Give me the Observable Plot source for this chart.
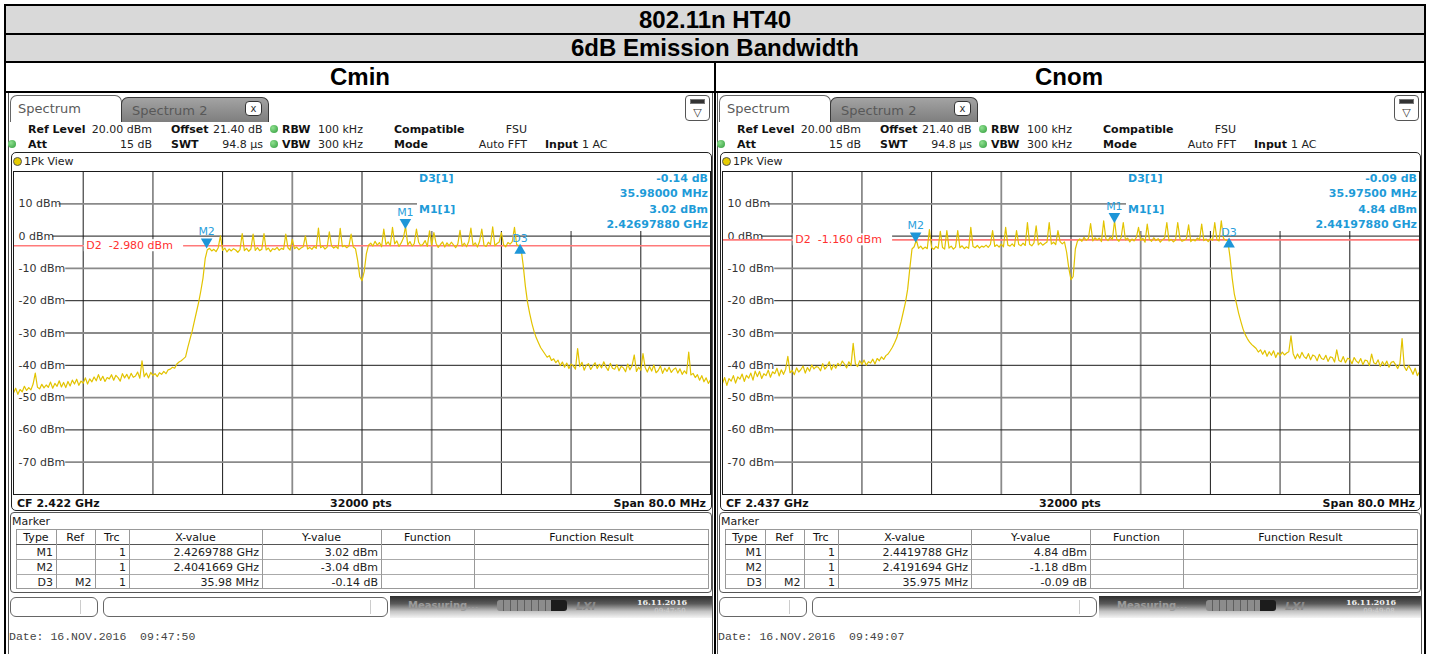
<!DOCTYPE html>
<html><head><meta charset="utf-8">
<script src="https://cdn.jsdelivr.net/npm/d3@7"></script>
<script src="https://cdn.jsdelivr.net/npm/@observablehq/plot@0.6"></script>
<style>
html,body{margin:0;padding:0;background:#fff;}
body{width:1431px;height:654px;overflow:hidden;position:relative;font-family:"DejaVu Sans",sans-serif;color:#222;}
.a{position:absolute;box-sizing:border-box;}
.t{position:absolute;white-space:pre;line-height:1;}
</style></head><body>
<script>
// ---------- data ----------
const spanMHz = 80;
const stepMHz = 0.25;
const cminStartMHz = 2382;
const cnomStartMHz = 2397;
const gridLevels = [10, 0, -10, -20, -30, -40, -50, -60, -70];

const cminLevels = [
-48.6,-47.1,-49.0,-47.5, -48.2,-46.5,-47.8,-46.9, -47.6,-45.8,-42.4,-46.8, -47.3,-45.9,-47.0,-46.1,
-46.8,-45.2,-47.1,-45.6, -46.5,-44.8,-46.7,-45.3, -46.9,-45.0,-46.4,-44.6, -45.8,-44.3,-46.2,-44.9,
-45.5,-43.9,-45.8,-44.2, -45.1,-43.6,-44.8,-42.9, -44.7,-43.4,-45.0,-43.8, -44.2,-42.9,-44.6,-43.1,
-43.8,-44.9,-42.6,-43.9, -42.8,-44.2,-42.5,-43.7, -43.3,-42.1,-44.0,-38.6, -43.5,-42.4,-43.9,-42.2,
-43.1,-42.6,-43.5,-42.3, -42.8,-41.9,-42.6,-41.4, -41.2,-40.6,-40.9,-39.6, -39.0,-38.6,-38.0,-37.4,
-34.5,-32.0,-29.5,-26.5, -23.5,-20.5,-17.0,-13.0, -7.0,-4.2,-3.8,-4.6, -4.1,-4.8,-3.6,0.1,
-4.4,-3.7,-4.9,-4.0, -4.6,-3.9,-4.3,-5.0, -4.2,0.8,-4.5,-3.8, -4.7,-4.0,0.6,-4.4,
-3.6,-4.5,-4.1,0.8, -4.3,-3.7,-4.8,-3.9, -4.2,-3.5,-4.4,-3.8, -4.1,0.6,-3.6,-4.3,
-1.0,-3.9,-3.4,-4.2, -3.7,-3.3,0.1,-4.0, -3.5,-4.1,-3.2,-3.8, 2.5,-3.6,-3.1,-4.0,
-3.4,1.3,-3.0,-3.7, -3.2,-3.9,2.4,-3.3, -2.9,-3.6,-3.1,0.6, -3.4,-3.9,-7.5,-12.6,
-13.8,-11.0,-5.5,-2.8, -2.2,-3.1,-1.6,-2.8, -2.0,-3.3,2.2,-2.6, -1.8,-3.0,2.7,-2.4,
-1.5,-3.2,-2.1,-0.6, 3.02,-2.7,-1.7,-3.1, -2.3,2.2,-1.9,-3.0, -2.5,-1.4,-3.2,1.6,
-2.8,1.1,-2.2,-3.5, -2.6,-1.8,-3.4,-2.1, -3.0,-1.9,-2.7,-3.6, -2.4,1.8,-3.1,-2.2,
-3.3,-1.7,2.5,-2.9, -2.1,-3.4,-1.6,2.2, -2.8,-3.2,-1.9,-2.6, 2.9,-3.0,-2.3,-1.8,
1.1,-2.7,-3.3,-2.0, -2.5,-1.7,2.7,-2.6, -3.0,-3.8,-9.0,-15.5, -20.5,-24.0,-27.0,-29.5,
-31.5,-33.0,-34.5,-35.5, -36.5,-37.5,-37.0,-38.5, -38.0,-39.2,-38.4,-40.1, -39.0,-40.6,-39.3,-41.0,
-39.6,-40.2,-41.2,-34.8, -40.4,-39.1,-41.5,-40.0, -39.5,-41.3,-40.2,-39.2, -41.0,-39.7,-40.8,-38.9,
-40.5,-41.6,-39.4,-40.9, -41.2,-39.8,-41.7,-40.3, -40.8,-42.0,-39.6,-41.4, -40.1,-36.8,-41.9,-40.6,
-41.5,-36.4,-40.7,-42.1, -40.4,-41.8,-39.9,-42.3, -41.6,-40.2,-42.5,-40.9, -41.9,-40.6,-42.2,-41.3,
-40.8,-42.4,-41.1,-42.8, -41.7,-42.6,-35.9,-43.0, -42.5,-43.8,-42.9,-44.6, -43.2,-45.1,-43.9,-45.6,
-44.5
];

const cnomLevels = [
-45.6,-43.8,-46.2,-44.1, -44.9,-43.2,-45.5,-43.6, -44.3,-42.7,-45.0,-43.1, -44.0,-42.4,-44.6,-41.8,
-43.5,-41.9,-44.1,-42.6, -43.2,-41.5,-43.7,-42.0, -42.6,-40.9,-43.3,-41.4, -42.8,-41.2,-37.2,-42.3,
-41.6,-42.9,-40.8,-42.1, -41.3,-40.2,-42.4,-40.7, -41.8,-39.9,-41.1,-40.4, -40.6,-41.7,-39.5,-41.2,
-40.3,-38.9,-41.4,-39.8, -40.9,-39.4,-40.2,-38.7, -39.6,-40.8,-38.9,-40.1, -33.2,-39.5,-40.4,-38.6,
-39.7,-38.4,-40.0,-38.9, -39.3,-38.1,-39.6,-37.9, -38.6,-37.4,-38.2,-37.0, -36.5,-35.5,-34.4,-33.0,
-31.5,-29.0,-26.5,-23.5, -20.5,-16.5,-10.0,-4.0, -3.3,-1.2,-3.8,-3.1, -4.0,-3.4,-3.9,2.0,
-3.6,-4.1,-3.2,-3.8, 1.5,-3.5,-4.0,1.7, -3.7,-3.1,-4.0,-3.4, 1.7,-3.6,-3.0,-3.9,
-3.3,-3.8,2.7,-3.2, -3.6,-2.9,-3.7,-3.1, -3.4,-2.8,-3.5,-2.6, 1.7,-3.2,-2.7,-3.4,
-2.5,-3.3,2.7,-2.8, -3.1,-2.4,-3.2,1.7, -2.6,-3.0,-2.2,-2.9, 4.2,-2.5,-3.0,-2.1,
3.2,-2.7,-2.0,-2.8, -2.3,-1.8,4.2,-2.5, -1.9,-2.6,1.7,-1.7, -2.4,-1.8,-5.0,-10.0,
-13.5,-12.5,-4.0,-1.5, -0.9,-1.6,-0.4,-1.3, -0.7,3.9,-1.5,-0.5, -1.2,-0.6,-1.7,4.7,
-0.8,-1.4,-0.3,-1.1, 4.84,-0.9,-1.6,-0.5, 4.2,-1.2,-0.6,-1.8, -0.9,-1.5,-0.4,2.7,
-1.3,-0.7,-1.9,3.7, -1.0,-1.6,-0.5,-1.4, -0.8,-1.9,-1.1,-0.6, 4.2,-1.5,-1.0,-1.8,
-1.2,4.2,-0.7,-1.6, -1.3,-0.8,3.5,-1.7, -1.0,-1.5,-0.6,-1.2, 3.7,-1.4,-0.9,-1.7,
-0.8,-1.3,4.2,-1.1, -1.5,4.7,-0.7,-1.2, -1.5,-6.5,-13.0,-18.0, -21.0,-24.0,-26.5,-28.8,
-30.5,-31.8,-32.8,-33.6, -34.2,-34.8,-35.9,-35.2, -36.6,-35.4,-37.2,-35.8, -36.9,-35.5,-37.6,-36.1,
-37.0,-35.9,-36.8,-36.2, -35.8,-30.9,-36.4,-38.0, -36.5,-37.8,-36.0,-37.3, -37.9,-36.4,-38.3,-36.8,
-37.2,-38.6,-36.6,-37.9, -38.2,-36.9,-38.8,-37.4, -37.6,-39.0,-35.2,-38.5, -38.9,-37.3,-39.2,-37.8,
-38.1,-39.5,-37.6,-38.7, -39.3,-37.9,-39.8,-38.4, -38.6,-40.1,-36.5,-39.2, -39.6,-38.3,-40.4,-38.9,
-40.0,-38.7,-40.6,-39.1, -38.8,-39.8,-41.0,-39.5, -31.7,-40.4,-41.6,-40.1, -41.3,-42.8,-40.9,-43.2,
-42.0
];

const cminMarkerNames = ["M2", "M1", "D3"];
const cminMarkerFreqs = [2404.1669, 2426.9788, 2440.1469];
const cminMarkerLevels = [-3.04, 3.02, -3.18];
const cnomMarkerNames = ["M2", "M1", "D3"];
const cnomMarkerFreqs = [2419.1694, 2441.9788, 2455.1444];
const cnomMarkerLevels = [-1.18, 4.84, -1.27];
const cminD2 = -2.98;
const cnomD2 = -1.16;

const cminReadout = ["-0.14 dB", "35.98000 MHz", "3.02 dBm", "2.42697880 GHz"];
const cnomReadout = ["-0.09 dB", "35.97500 MHz", "4.84 dBm", "2.44197880 GHz"];
const tableHeader = ["Type", "Ref", "Trc", "X-value", "Y-value", "Function", "Function Result"];
const cminTable = [
  ["M1", "", "1", "2.4269788 GHz", "3.02 dBm", "", ""],
  ["M2", "", "1", "2.4041669 GHz", "-3.04 dBm", "", ""],
  ["D3", "M2", "1", "35.98 MHz", "-0.14 dB", "", ""]
];
const cnomTable = [
  ["M1", "", "1", "2.4419788 GHz", "4.84 dBm", "", ""],
  ["M2", "", "1", "2.4191694 GHz", "-1.18 dBm", "", ""],
  ["D3", "M2", "1", "35.975 MHz", "-0.09 dB", "", ""]
];
const cminCF = "CF 2.422 GHz", cnomCF = "CF 2.437 GHz";
const ptsLabel = "32000 pts", spanLabel = "Span 80.0 MHz";
const cminDate = "Date: 16.NOV.2016  09:47:50", cnomDate = "Date: 16.NOV.2016  09:49:07";
const cminClock = "09:47:50", cnomClock = "09:49:08";
const statusDate = "16.11.2016";

// ---------- helpers ----------
const B = document.body;
function box(x, y, w, h, css) {
  const d = document.createElement("div");
  d.className = "a";
  d.style.cssText += `left:${x}px;top:${y}px;width:${w}px;height:${h}px;${css || ""}`;
  B.appendChild(d); return d;
}
function txt(x, y, s, css, align) {
  const d = document.createElement("div");
  d.className = "t"; d.textContent = s;
  const tx = align === "right" ? "-100%" : align === "center" ? "-50%" : "0";
  d.style.cssText += `left:${x}px;top:${y}px;transform:translate(${tx},-50%);${css || ""}`;
  B.appendChild(d); return d;
}

// ---------- outer table ----------
box(4, 4, 1422, 700, "border:2px solid #000;");
box(6, 6, 1418, 27, "background:#d9d9d9;");
box(6, 33, 1418, 2, "background:#000;");
box(6, 35, 1418, 26, "background:#d9d9d9;");
box(6, 61, 1418, 2, "background:#000;");
box(6, 91, 1418, 2, "background:#000;");
box(714, 63, 2, 600, "background:#000;");
const titleCss = "font-family:'Liberation Sans',Arial,sans-serif;font-weight:bold;font-size:24px;color:#000;";
txt(715, 19.5, "802.11n HT40", titleCss, "center");
txt(715, 48, "6dB Emission Bandwidth", titleCss, "center");
txt(360, 77, "Cmin", titleCss, "center");
txt(1069, 77, "Cnom", titleCss, "center");

// ---------- spectrum chart ----------
function spectrum(levels, f0, d2, names, freqs, lvls) {
  const pts = levels.map((v, i) => ({f: f0 + i * stepMHz, v}));
  const mk = names.map((n, i) => ({name: n, f: freqs[i], v: lvls[i], up: n.startsWith("D")}));
  const mhzPerPx = spanMHz / 697;
  const dbPerPx = 100 / 323;
  const vlines = d3.range(1, 10).map(k => f0 + k * spanMHz / 10);
  const lbl = d => `${d} dBm`;
  const d2lbl = d => `D2\u00a0\u00a0${d.toFixed(3)} dBm`;
  const boxX1 = f0 + 404 * mhzPerPx, boxY1 = 20 - 60 * dbPerPx;
  const d2x = f0 + spanMHz / 10;
  return Plot.plot({
    width: 699, height: 325,
    marginTop: 1, marginBottom: 1, marginLeft: 1, marginRight: 1,
    x: {domain: [f0, f0 + spanMHz], axis: null},
    y: {domain: [-80, 20], axis: null},
    style: {background: "transparent", fontFamily: "DejaVu Sans", fontSize: "11px"},
    marks: [
      Plot.ruleX(vlines.filter((d, k) => k % 2 === 0), {stroke: "#1a1a1a", strokeWidth: 1}),
      Plot.ruleX(vlines.filter((d, k) => k % 2 === 1), {stroke: "#8a8a8a", strokeWidth: 1.8}),
      Plot.ruleY(gridLevels.filter(d => Math.abs(d / 10) % 2 === 0), {stroke: "#1a1a1a", strokeWidth: 1}),
      Plot.ruleY(gridLevels.filter(d => Math.abs(d / 10) % 2 === 1), {stroke: "#8a8a8a", strokeWidth: 1.8}),
      Plot.rect([0], {x1: () => boxX1, x2: () => f0 + spanMHz, y1: () => boxY1, y2: () => 20, fill: "white"}),
      Plot.rect(gridLevels, {x1: () => f0, x2: d => f0 + (lbl(d).length * 6.6 + 6) * mhzPerPx,
        y1: d => d - 6 * dbPerPx, y2: d => d + 6 * dbPerPx, fill: "white"}),
      Plot.text(gridLevels, {x: () => f0, y: d => d, text: lbl, textAnchor: "start", dx: 5, fill: "#333", fontSize: 11}),
      Plot.ruleY([d2], {stroke: "#ff7a7a", strokeWidth: 1.6}),
      Plot.rect([d2], {x1: () => d2x + 1 * mhzPerPx, x2: d => d2x + (d2lbl(d).length * 6.6 + 8) * mhzPerPx,
        y1: d => d - 6 * dbPerPx, y2: d => d + 6 * dbPerPx, fill: "white"}),
      Plot.text([d2], {x: () => d2x, y: d => d, text: d2lbl,
        textAnchor: "start", dx: 3, fill: "#ff3030", fontSize: 11}),
      Plot.line(pts, {x: "f", y: "v", stroke: "#e2c300", strokeWidth: 1.2}),
      Plot.dot(mk.filter(m => !m.up), {x: "f", y: "v", symbol: "triangle", rotate: 180, r: 4.3, fill: "#1e96d8", dy: -4}),
      Plot.dot(mk.filter(m => m.up), {x: "f", y: "v", symbol: "triangle", r: 4.3, fill: "#1e96d8", dy: 4}),
      Plot.text(mk.filter(m => !m.up), {x: "f", y: "v", text: "name", dy: -14, fill: "#2a9fdc", fontSize: 11}),
      Plot.text(mk.filter(m => m.up), {x: "f", y: "v", text: "name", dy: -8, fill: "#2a9fdc", fontSize: 11}),
      Plot.frame({stroke: "#1a1a1a"})
    ]
  });
}

// ---------- panel ----------
function panel(ox, cfg) {
  // screenshot edges
  box(ox + 8, 93, 1, 561, "background:#555;");
  box(ox + 712, 93, 1, 561, "background:#555;");
  // tabs
  box(ox + 10, 95, 112, 27, "border:1px solid #666;border-bottom:none;border-radius:7px 7px 0 0;background:#fff;");
  txt(ox + 18, 108, "Spectrum", "font-size:13px;color:#5a5a5a;");
  box(ox + 121, 97, 148, 25, "border:1px solid #3a3a3a;border-bottom:none;border-radius:7px 7px 0 0;background:linear-gradient(#a3a3a3,#7e7e7e);");
  txt(ox + 132, 109.5, "Spectrum 2", "font-size:13px;color:#585858;");
  box(ox + 245, 101, 17, 15, "background:#fff;border:1px solid #333;border-radius:4px;");
  txt(ox + 253.5, 108.5, "x", "font-size:10px;color:#333;", "center");
  box(ox + 685, 95, 25, 26, "border:1px solid #555;border-radius:4px;background:#fff;");
  box(ox + 690, 99, 15, 5, "background:#333;border:1px solid #777;");
  txt(ox + 697.5, 112, "\u25BD", "font-size:11px;color:#333;", "center");
  // info rows
  const b = "font-size:11px;font-weight:bold;color:#111;";
  const n = "font-size:11px;color:#222;";
  const dot = (x, y) => box(ox + x - 4, y - 4, 8, 8, "border-radius:50%;background:radial-gradient(circle at 35% 35%,#8fe08f,#2e9a3a);");
  txt(ox + 28, 129, "Ref Level", b); txt(ox + 152, 129, "20.00 dBm", n, "right");
  txt(ox + 171, 129, "Offset", b); txt(ox + 213, 129, "21.40 dB", n);
  dot(274, 129); txt(ox + 282, 129, "RBW", b); txt(ox + 318, 129, "100 kHz", n);
  txt(ox + 394, 129, "Compatible", b); txt(ox + 527, 129, "FSU", n, "right");
  dot(12, 144); txt(ox + 28, 144, "Att", b); txt(ox + 152, 144, "15 dB", n, "right");
  txt(ox + 171, 144, "SWT", b); txt(ox + 263, 144, "94.8 \u00b5s", n, "right");
  dot(274, 144); txt(ox + 282, 144, "VBW", b); txt(ox + 318, 144, "300 kHz", n);
  txt(ox + 394, 144, "Mode", b); txt(ox + 527, 144, "Auto FFT", n, "right");
  txt(ox + 545, 144, "Input", b); txt(ox + 582, 144, "1 AC", n);
  // 1Pk view box
  box(ox + 11, 152, 701, 359, "border:1.5px solid #222;border-radius:5px;");
  box(ox + 13, 156.5, 9, 9, "border-radius:50%;background:#e6cc00;border:1px solid #555;");
  txt(ox + 24, 161, "1Pk View", "font-size:11px;color:#222;");
  // chart
  const svg = spectrum(cfg.levels, cfg.f0, cfg.d2, cfg.names, cfg.freqs, cfg.lvls);
  const holder = box(ox + 12, 170, 699, 325, "");
  holder.appendChild(svg);
  // readout
  const bl = "font-size:11px;font-weight:bold;color:#1e9bd8;";
  txt(ox + 419, 178, "D3[1]", bl);
  txt(ox + 419, 209, "M1[1]", bl);
  txt(ox + 708, 178, cfg.readout[0], bl, "right");
  txt(ox + 708, 193, cfg.readout[1], bl, "right");
  txt(ox + 708, 209, cfg.readout[2], bl, "right");
  txt(ox + 708, 224, cfg.readout[3], bl, "right");
  // footer
  txt(ox + 17, 502.5, cfg.cf, b);
  txt(ox + 361, 502.5, ptsLabel, b, "center");
  txt(ox + 706, 502.5, spanLabel, b, "right");
  // marker table
  box(ox + 10, 512, 702, 81, "border:1px solid #555;border-radius:4px;");
  txt(ox + 12, 520.5, "Marker", "font-size:11px;color:#222;");
  const cols = [16, 56, 94.5, 129, 262, 381, 474, 709];
  const rows = [529, 544, 559, 574, 589];
  box(ox + cols[0], rows[0], cols[7] - cols[0], rows[4] - rows[0], "border:1px solid #999;");
  box(ox + cols[0], rows[1], cols[7] - cols[0], 1, "background:#555;");
  for (let r = 2; r < 4; r++) box(ox + cols[0], rows[r], cols[7] - cols[0], 1, "background:#aaa;");
  for (let c = 1; c < 7; c++) box(ox + cols[c], rows[0], 1, rows[4] - rows[0], "background:#999;");
  tableHeader.forEach((h, c) => txt(ox + (cols[c] + cols[c + 1]) / 2, (rows[0] + rows[1]) / 2 + 0.5, h, "font-size:11px;color:#111;", "center"));
  cfg.table.forEach((row, r) => row.forEach((v, c) => {
    if (v) txt(ox + cols[c + 1] - 3, (rows[r + 1] + rows[r + 2]) / 2 + 0.5, v, "font-size:11px;color:#222;", "right");
  }));
  // status bar
  box(ox + 10, 597, 88, 20, "border:1px solid #666;border-radius:6px;background:#fff;");
  box(ox + 80, 600, 1, 14, "background:#ccc;");
  box(ox + 103, 597, 285, 20, "border:1px solid #666;border-radius:6px;background:#fff;");
  box(ox + 370, 600, 1, 14, "background:#ccc;");
  box(ox + 390, 596, 322, 22, "background:linear-gradient(#2e2e2e 0%,#5a5a5a 35%,#c4c4c4 70%,#f4f4f4 100%);");
  txt(ox + 408, 606, "Measuring...", "font-size:10px;font-weight:bold;color:#9a9a9a;");
  box(ox + 497, 600, 54, 11, "border-radius:3px 0 0 3px;background:repeating-linear-gradient(90deg,#8c8c8c 0 6px,#5e5e5e 6px 7px);");
  box(ox + 551, 600, 16, 11, "border-radius:0 3px 3px 0;background:#1c1c1c;");
  txt(ox + 576, 606, "LXI", "font-size:11px;font-style:italic;font-weight:bold;color:#8a8a8a;");
  txt(ox + 662, 602, statusDate, "font-family:'DejaVu Serif',serif;font-size:8px;font-weight:bold;color:#f0f0f0;", "center");
  txt(ox + 670, 611, cfg.clock, "font-family:'DejaVu Serif',serif;font-size:7px;color:#d0d0d0;", "center");
  // date
  txt(ox + 9, 637, cfg.date, "font-family:'Liberation Mono',monospace;font-size:11.5px;color:#444;");
}

panel(0, {levels: cminLevels, f0: cminStartMHz, d2: cminD2, names: cminMarkerNames, freqs: cminMarkerFreqs,
  lvls: cminMarkerLevels, readout: cminReadout, cf: cminCF, table: cminTable, date: cminDate, clock: cminClock});
panel(709, {levels: cnomLevels, f0: cnomStartMHz, d2: cnomD2, names: cnomMarkerNames, freqs: cnomMarkerFreqs,
  lvls: cnomMarkerLevels, readout: cnomReadout, cf: cnomCF, table: cnomTable, date: cnomDate, clock: cnomClock});
</script>
</body></html>
